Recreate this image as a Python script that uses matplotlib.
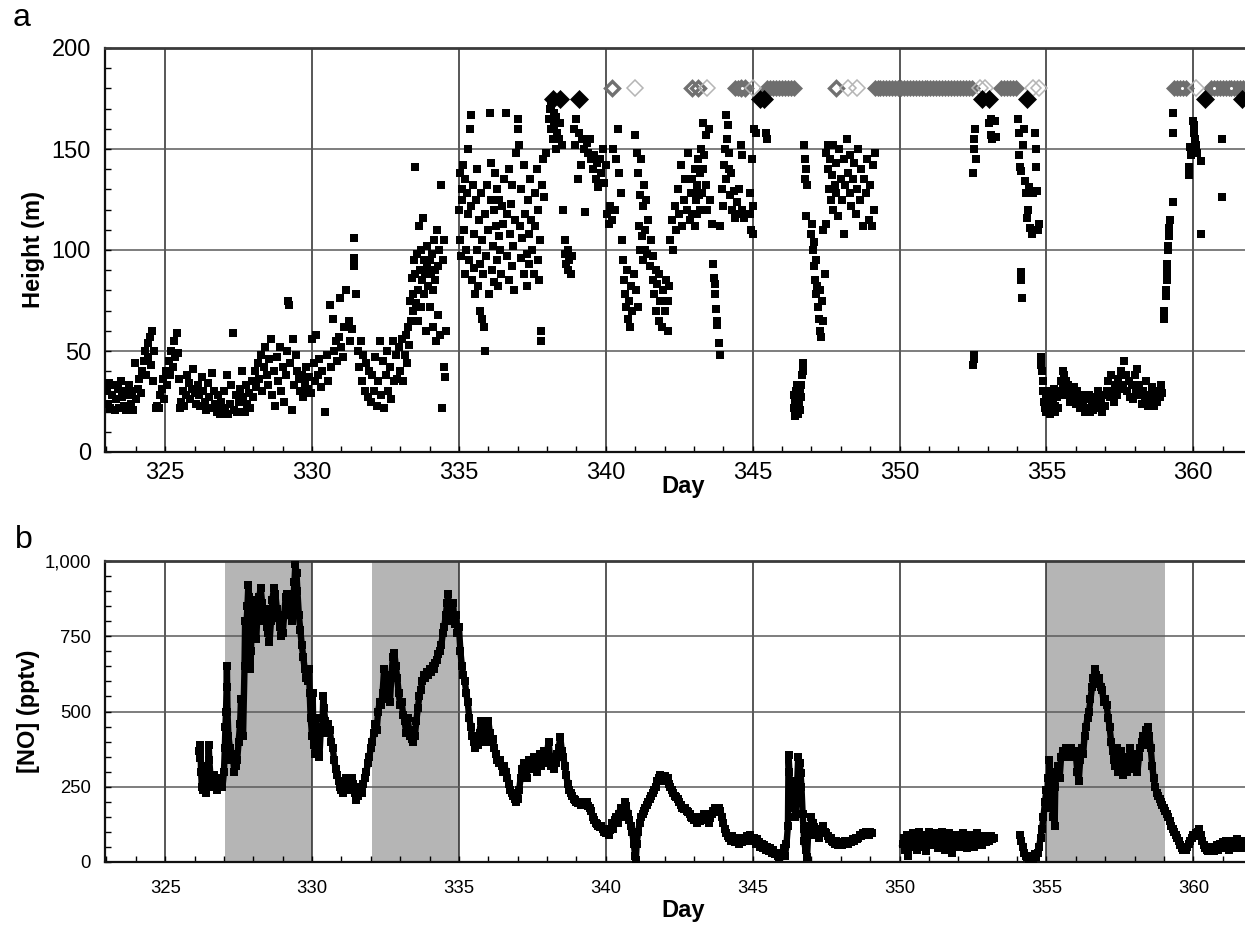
import matplotlib
matplotlib.use("Agg")
import matplotlib.pyplot as plt
from matplotlib.ticker import MultipleLocator, FuncFormatter
import numpy as np

plt.rcParams['font.family'] = ['Liberation Sans', 'DejaVu Sans']

# ---------------- Panel a : height (m) vs day ----------------
low_323_333 = [
    (323.02, 30), (323.05, 24), (323.10, 34), (323.12, 22), (323.18, 28), (323.22, 33), (323.28, 21),
    (323.32, 26), (323.38, 31), (323.42, 22), (323.48, 35), (323.52, 27), (323.58, 23), (323.62, 30),
    (323.68, 21), (323.72, 28), (323.78, 33), (323.82, 24), (323.88, 30), (323.92, 21), (323.97, 44),
    (324.02, 26), (324.08, 31), (324.12, 36), (324.18, 29), (324.22, 40), (324.27, 45), (324.30, 50),
    (324.35, 38), (324.40, 54), (324.43, 47), (324.48, 57), (324.52, 43), (324.55, 60), (324.60, 35),
    (324.62, 50), (324.68, 22), (324.72, 23), (324.78, 22), (324.82, 28), (324.88, 31), (324.93, 36),
    (324.97, 26), (325.02, 40), (325.07, 33), (325.12, 45), (325.17, 38), (325.20, 50), (325.25, 42),
    (325.30, 55), (325.35, 47), (325.40, 59), (325.42, 49), (325.47, 36), (325.50, 22), (325.55, 25),
    (325.60, 30), (325.65, 23), (325.70, 28), (325.75, 38), (325.80, 34), (325.85, 26), (325.90, 31),
    (325.95, 41), (326.00, 29), (326.05, 24), (326.10, 33), (326.15, 28), (326.20, 23), (326.25, 37),
    (326.30, 30), (326.35, 25), (326.40, 21), (326.45, 34), (326.50, 27), (326.55, 22), (326.60, 39),
    (326.65, 30), (326.70, 24), (326.75, 20), (326.80, 28), (326.85, 19), (326.90, 25), (326.95, 22),
    (327.00, 30), (327.05, 20), (327.10, 38), (327.15, 19), (327.20, 24), (327.25, 33), (327.30, 59),
    (327.35, 21), (327.40, 28), (327.45, 20), (327.50, 25), (327.55, 31), (327.60, 40), (327.65, 27),
    (327.70, 20), (327.75, 33), (327.80, 24), (327.85, 29), (327.90, 22), (327.95, 35), (328.00, 27),
    (328.05, 40), (328.10, 32), (328.15, 44), (328.20, 36), (328.25, 48), (328.30, 30), (328.35, 42),
    (328.40, 52), (328.45, 38), (328.50, 33), (328.55, 46), (328.60, 56), (328.65, 28), (328.70, 40),
    (328.75, 23), (328.80, 47), (328.85, 35), (328.90, 52), (328.95, 30), (329.00, 42), (329.05, 25),
    (329.10, 38), (329.15, 50), (329.18, 75), (329.22, 73), (329.25, 44), (329.30, 21), (329.35, 56),
    (329.40, 33), (329.45, 48), (329.50, 40), (329.55, 36), (329.60, 30), (329.65, 38), (329.70, 27),
    (329.75, 34), (329.80, 42), (329.85, 31), (329.90, 37), (329.95, 29), (330.00, 56), (330.05, 44),
    (330.10, 35), (330.15, 58), (330.20, 38), (330.25, 46), (330.30, 32), (330.35, 40), (330.43, 20),
    (330.50, 48), (330.55, 35), (330.60, 73), (330.65, 42), (330.70, 66), (330.75, 50), (330.80, 55),
    (330.85, 45), (330.90, 57), (330.95, 76), (331.00, 52), (331.05, 47), (331.10, 62), (331.17, 80),
    (331.25, 65), (331.30, 55), (331.35, 61), (331.42, 106), (331.43, 96), (331.44, 92), (331.50, 78),
    (331.55, 50), (331.60, 42), (331.65, 55), (331.70, 35), (331.75, 48), (331.80, 30), (331.85, 44),
    (331.90, 27), (331.95, 40), (332.00, 25), (332.05, 38), (332.10, 30), (332.15, 47), (332.20, 23),
    (332.25, 35), (332.30, 55), (332.35, 28), (332.40, 45), (332.45, 22), (332.50, 38), (332.55, 50),
    (332.60, 30), (332.65, 42), (332.70, 26), (332.75, 55), (332.80, 35), (332.85, 48), (332.90, 36),
    (332.95, 52),
]
rise_333_335 = [
    (333.00, 40), (333.05, 56), (333.10, 35), (333.15, 48), (333.20, 58), (333.22, 44), (333.28, 62),
    (333.30, 53), (333.35, 75), (333.38, 65), (333.40, 86), (333.42, 78), (333.45, 70), (333.48, 95),
    (333.50, 141), (333.52, 88), (333.55, 74), (333.58, 98), (333.60, 65), (333.62, 80), (333.65, 112),
    (333.68, 90), (333.70, 72), (333.72, 100), (333.75, 85), (333.78, 116), (333.80, 95), (333.82, 78),
    (333.85, 88), (333.88, 60), (333.90, 102), (333.92, 92), (333.95, 82), (334.00, 95), (334.02, 72),
    (334.05, 88), (334.08, 98), (334.10, 62), (334.12, 80), (334.15, 105), (334.18, 85), (334.20, 90),
    (334.22, 55), (334.25, 110), (334.28, 68), (334.30, 92), (334.32, 100), (334.35, 58), (334.40, 132),
    (334.42, 22), (334.45, 95), (334.48, 105), (334.50, 42), (334.52, 37), (334.55, 60),
]
high_335_338 = [
    (335.00, 120), (335.02, 105), (335.05, 138), (335.08, 97), (335.10, 130), (335.12, 125), (335.15, 142),
    (335.18, 110), (335.20, 88), (335.22, 135), (335.25, 100), (335.28, 128), (335.30, 150), (335.32, 118),
    (335.35, 95), (335.38, 160), (335.40, 167), (335.42, 122), (335.45, 85), (335.48, 132), (335.50, 91),
    (335.52, 108), (335.55, 78), (335.58, 125), (335.60, 100), (335.62, 140), (335.65, 82), (335.68, 115),
    (335.70, 93), (335.72, 70), (335.75, 128), (335.78, 105), (335.80, 66), (335.82, 88), (335.85, 62),
    (335.88, 118), (335.90, 50), (335.92, 97), (335.95, 132), (336.00, 110), (336.02, 78), (336.05, 168),
    (336.08, 143), (336.10, 125), (336.12, 90), (336.15, 102), (336.18, 120), (336.20, 84), (336.22, 138),
    (336.25, 112), (336.28, 95), (336.30, 130), (336.32, 82), (336.35, 107), (336.38, 125), (336.40, 100),
    (336.42, 88), (336.45, 122), (336.50, 113), (336.55, 135), (336.60, 168), (336.62, 97), (336.65, 118),
    (336.70, 85), (336.72, 140), (336.75, 108), (336.78, 123), (336.80, 92), (336.82, 132), (336.85, 102),
    (336.88, 80), (336.90, 115), (336.95, 148), (337.00, 165), (337.02, 160), (337.05, 152), (337.08, 112),
    (337.10, 96), (337.12, 130), (337.15, 106), (337.20, 88), (337.22, 142), (337.25, 118), (337.30, 98),
    (337.32, 82), (337.35, 125), (337.38, 108), (337.40, 93), (337.42, 135), (337.45, 115), (337.50, 100),
    (337.55, 88), (337.58, 128), (337.60, 112), (337.65, 140), (337.68, 95), (337.70, 120), (337.72, 85),
    (337.75, 105), (337.78, 60), (337.80, 55), (337.82, 132), (337.85, 145), (337.90, 126), (337.95, 148),
]
high_338_340 = [
    (338.05, 165), (338.10, 170), (338.12, 160), (338.15, 172), (338.20, 155), (338.22, 168), (338.25, 162),
    (338.30, 150), (338.32, 166), (338.35, 158), (338.40, 155), (338.45, 163), (338.50, 152), (338.55, 120),
    (338.60, 105), (338.62, 98), (338.65, 93), (338.70, 100), (338.72, 90), (338.75, 95), (338.80, 88),
    (338.85, 97), (338.90, 160), (338.95, 152), (339.00, 165), (339.05, 135), (339.10, 158), (339.15, 142),
    (339.20, 155), (339.25, 150), (339.30, 119), (339.35, 153), (339.40, 148), (339.45, 155), (339.50, 145),
    (339.55, 140), (339.60, 147), (339.65, 135), (339.70, 143), (339.75, 131), (339.80, 145), (339.85, 138),
    (339.90, 150), (339.95, 133), (340.00, 142),
]
mid_340_343 = [
    (340.05, 118), (340.10, 113), (340.15, 122), (340.20, 115), (340.25, 150), (340.30, 120), (340.35, 145),
    (340.40, 160), (340.45, 138), (340.50, 128), (340.55, 105), (340.60, 95), (340.62, 85), (340.65, 78),
    (340.70, 72), (340.72, 90), (340.75, 66), (340.80, 75), (340.82, 62), (340.85, 82), (340.90, 70),
    (340.95, 88), (341.00, 157), (341.02, 80), (341.05, 148), (341.08, 72), (341.10, 138), (341.12, 112),
    (341.15, 127), (341.18, 100), (341.20, 145), (341.22, 107), (341.25, 122), (341.28, 95), (341.30, 132),
    (341.32, 110), (341.35, 100), (341.38, 125), (341.40, 98), (341.45, 115), (341.50, 92), (341.55, 105),
    (341.60, 85), (341.62, 97), (341.65, 78), (341.70, 90), (341.72, 70), (341.75, 83), (341.80, 65),
    (341.82, 88), (341.85, 75), (341.90, 62), (341.95, 80), (342.00, 70), (342.05, 85), (342.10, 75),
    (342.12, 60), (342.15, 82), (342.20, 105), (342.25, 115), (342.30, 100), (342.35, 122), (342.40, 110),
    (342.45, 130), (342.50, 118), (342.55, 142), (342.60, 112), (342.65, 125), (342.70, 135), (342.75, 120),
    (342.80, 148), (342.85, 115), (342.90, 128),
]
mid_343_346 = [
    (342.92, 135), (342.95, 118), (343.00, 128), (343.02, 140), (343.05, 112), (343.08, 125), (343.10, 132),
    (343.12, 118), (343.15, 145), (343.18, 127), (343.20, 120), (343.22, 138), (343.25, 150), (343.28, 128),
    (343.30, 163), (343.32, 140), (343.35, 147), (343.40, 157), (343.42, 132), (343.45, 120), (343.50, 160),
    (343.55, 125), (343.60, 113), (343.65, 93), (343.67, 86), (343.70, 83), (343.72, 78), (343.75, 71),
    (343.77, 65), (343.80, 63), (343.85, 54), (343.88, 48), (343.90, 112), (343.95, 130), (344.00, 122),
    (344.02, 142), (344.05, 150), (344.08, 135), (344.10, 167), (344.12, 155), (344.15, 162), (344.18, 140),
    (344.20, 148), (344.22, 127), (344.25, 138), (344.30, 120), (344.35, 129), (344.40, 116), (344.45, 124),
    (344.50, 118), (344.55, 130), (344.60, 152), (344.62, 147), (344.65, 120), (344.70, 116), (344.90, 128),
    (344.92, 118), (344.95, 110), (344.97, 145), (345.00, 122), (345.02, 108), (345.05, 160), (345.10, 158),
    (345.45, 158), (345.50, 155),
]
dip_346_349 = [
    (346.40, 28), (346.42, 22), (346.44, 18), (346.45, 25), (346.47, 30), (346.48, 20), (346.50, 27),
    (346.52, 33), (346.54, 23), (346.55, 19), (346.57, 29), (346.58, 25), (346.60, 31), (346.62, 21),
    (346.63, 27), (346.65, 33), (346.68, 38), (346.70, 44), (346.72, 40), (346.75, 152), (346.77, 145),
    (346.78, 135), (346.80, 140), (346.82, 117), (346.85, 132), (347.00, 108), (347.02, 113), (347.05, 100),
    (347.08, 92), (347.10, 104), (347.12, 85), (347.15, 95), (347.17, 78), (347.20, 82), (347.22, 72),
    (347.25, 66), (347.28, 80), (347.30, 60), (347.32, 57), (347.35, 75), (347.38, 65), (347.40, 110),
    (347.45, 88), (347.48, 113), (347.50, 148), (347.55, 140), (347.58, 152), (347.60, 130), (347.62, 145),
    (347.65, 125), (347.70, 137), (347.72, 120), (347.75, 152), (347.80, 132), (347.82, 143), (347.85, 128),
    (347.90, 117), (347.95, 150), (348.00, 135), (348.05, 125), (348.10, 145), (348.12, 108), (348.15, 132),
    (348.20, 155), (348.25, 138), (348.30, 128), (348.32, 147), (348.35, 122), (348.40, 135), (348.45, 143),
    (348.50, 118), (348.55, 130), (348.60, 150), (348.65, 125), (348.70, 140), (348.75, 112), (348.80, 135),
    (348.85, 128), (348.90, 145), (348.95, 115), (349.00, 132), (349.05, 112), (349.10, 142), (349.12, 120),
    (349.15, 148),
]
late_352_355 = [
    (352.50, 138), (352.52, 150), (352.55, 155), (352.58, 160), (352.60, 145), (352.50, 43), (352.52, 46),
    (352.53, 48), (353.05, 163), (353.10, 165), (353.12, 157), (353.15, 155), (353.25, 164), (353.30, 156),
    (354.02, 165), (354.05, 158), (354.08, 147), (354.10, 141), (354.12, 139), (354.14, 89), (354.15, 85),
    (354.16, 76), (354.20, 152), (354.25, 160), (354.28, 134), (354.30, 128), (354.33, 116), (354.36, 120),
    (354.40, 131), (354.45, 111), (354.50, 108), (354.55, 128), (354.60, 158), (354.63, 150), (354.66, 141),
    (354.68, 129), (354.72, 110), (354.75, 113),
]
low_355_359 = [
    (354.80, 47), (354.82, 43), (354.85, 40), (354.87, 35), (354.90, 30), (354.92, 25), (354.95, 22),
    (354.97, 28), (355.00, 20), (355.02, 25), (355.05, 30), (355.08, 22), (355.10, 27), (355.12, 19),
    (355.15, 24), (355.18, 29), (355.20, 21), (355.22, 26), (355.25, 31), (355.28, 23), (355.30, 20),
    (355.35, 27), (355.40, 22), (355.45, 30), (355.50, 35), (355.52, 28), (355.55, 40), (355.58, 33),
    (355.60, 38), (355.62, 30), (355.65, 35), (355.70, 28), (355.75, 33), (355.80, 25), (355.85, 30),
    (355.90, 27), (355.95, 32), (356.00, 24), (356.05, 30), (356.10, 26), (356.15, 22), (356.20, 28),
    (356.25, 24), (356.30, 20), (356.35, 26), (356.40, 22), (356.45, 28), (356.50, 20), (356.55, 25),
    (356.60, 21), (356.65, 27), (356.70, 22), (356.75, 30), (356.80, 24), (356.85, 26), (356.90, 20),
    (356.95, 28), (357.00, 23), (357.05, 30), (357.10, 35), (357.15, 27), (357.20, 38), (357.25, 30),
    (357.30, 25), (357.35, 33), (357.40, 28), (357.45, 36), (357.50, 31), (357.55, 40), (357.60, 33),
    (357.65, 45), (357.70, 38), (357.75, 30), (357.80, 35), (357.85, 27), (357.90, 33), (357.95, 26),
    (358.00, 38), (358.05, 30), (358.10, 41), (358.15, 33), (358.20, 28), (358.25, 24), (358.30, 30),
    (358.35, 26), (358.40, 35), (358.45, 23), (358.50, 28), (358.55, 25), (358.60, 32), (358.65, 23),
    (358.70, 28), (358.75, 25), (358.80, 30), (358.85, 27), (358.90, 33), (358.95, 29),
]
rise_359_361 = [
    (359.00, 66), (359.01, 70), (359.07, 77), (359.08, 80), (359.09, 85), (359.10, 89), (359.12, 93),
    (359.13, 100), (359.14, 102), (359.16, 107), (359.18, 111), (359.20, 115), (359.30, 124), (359.30, 158),
    (359.31, 168), (359.85, 141), (359.86, 137), (359.90, 151), (359.92, 147), (360.00, 164), (360.01, 162),
    (360.03, 158), (360.05, 155), (360.07, 152), (360.10, 152), (360.12, 148), (360.26, 144), (360.26, 108),
    (360.96, 155), (360.96, 126),
]

# markers at the top of panel a (day positions)
black_diamond_days = [338.2, 338.45, 339.1, 345.25, 345.4, 352.8, 353.05, 354.35, 360.4, 361.65]
gray_band_days = [344.4, 344.5,
                  345.5, 345.6, 345.7, 345.8, 345.9, 346.0, 346.1, 346.2, 346.3, 346.4,
                  349.15, 349.25, 349.35, 349.45, 349.55, 349.65, 349.75, 349.85, 349.95, 350.05,
                  350.15, 350.25, 350.35, 350.45, 350.55, 350.65, 350.75, 350.85, 350.95, 351.05,
                  351.15, 351.25, 351.35, 351.45, 351.55, 351.65, 351.75, 351.85, 351.95, 352.05,
                  352.15, 352.25, 352.35, 352.45,
                  353.45, 353.55, 353.65, 353.75, 353.85, 353.95,
                  359.35, 359.45, 359.55, 359.65, 359.75,
                  360.6, 360.7, 360.8, 360.9, 361.0, 361.1, 361.2, 361.3, 361.4, 361.5, 361.6, 361.7]
band_dot_days = [344.65, 359.63, 360.71, 361.3]
dark_open_days = [340.2, 342.95, 343.15, 344.6, 344.75, 347.85]
light_open_days = [341.0, 343.45, 345.0, 348.25, 348.55, 352.75, 352.9, 354.55, 354.75, 360.1]
black_diamond_level = 175
gray_level = 180

# ---------------- Panel b : [NO] (pptv) vs day ----------------
no_326_349 = [
    (326.15, 370), (326.18, 345), (326.20, 390), (326.22, 300), (326.25, 250), (326.28, 320), (326.30, 240),
    (326.33, 290), (326.35, 260), (326.40, 230), (326.45, 300), (326.48, 390), (326.50, 340), (326.55, 270),
    (326.60, 250), (326.65, 290), (326.70, 260), (326.75, 240), (326.80, 280), (326.85, 250), (326.90, 270),
    (326.95, 250), (327.00, 300), (327.03, 380), (327.05, 450), (327.07, 500), (327.09, 580), (327.10, 650),
    (327.12, 500), (327.15, 420), (327.20, 380), (327.25, 340), (327.30, 360), (327.35, 300), (327.40, 320),
    (327.45, 340), (327.50, 400), (327.55, 460), (327.58, 540), (327.60, 520), (327.65, 420), (327.70, 650),
    (327.72, 800), (327.75, 760), (327.80, 850), (327.83, 920), (327.86, 880), (327.88, 780), (327.90, 640),
    (327.92, 700), (327.95, 820), (328.00, 870), (328.05, 790), (328.10, 740), (328.15, 850), (328.20, 880),
    (328.25, 910), (328.30, 860), (328.35, 800), (328.40, 840), (328.45, 780), (328.50, 760), (328.55, 730),
    (328.60, 800), (328.65, 870), (328.70, 910), (328.75, 890), (328.80, 840), (328.85, 810), (328.90, 780),
    (328.95, 750), (329.00, 760), (329.05, 820), (329.10, 880), (329.15, 890), (329.20, 830), (329.25, 820),
    (329.30, 800), (329.35, 850), (329.40, 930), (329.43, 990), (329.47, 960), (329.50, 900), (329.55, 820),
    (329.60, 770), (329.65, 720), (329.70, 680), (329.75, 640), (329.80, 610), (329.85, 600), (329.90, 640),
    (329.92, 560), (329.95, 480), (330.00, 420), (330.02, 560), (330.05, 390), (330.08, 430), (330.10, 360),
    (330.13, 480), (330.15, 420), (330.20, 400), (330.25, 350), (330.30, 450), (330.35, 430), (330.38, 550),
    (330.40, 510), (330.45, 470), (330.50, 430), (330.55, 460), (330.60, 440), (330.65, 400), (330.70, 380),
    (330.75, 340), (330.80, 310), (330.85, 290), (330.90, 270), (330.95, 250), (331.00, 240), (331.05, 230),
    (331.10, 260), (331.15, 280), (331.20, 270), (331.25, 240), (331.30, 260), (331.35, 280), (331.40, 260),
    (331.45, 230), (331.50, 205), (331.55, 220), (331.60, 240), (331.65, 250), (331.70, 230), (331.75, 260),
    (331.80, 280), (331.85, 300), (331.90, 330), (331.95, 350), (332.00, 380), (332.05, 400), (332.10, 430),
    (332.15, 460), (332.20, 440), (332.25, 500), (332.30, 530), (332.35, 520), (332.40, 560), (332.45, 640),
    (332.50, 600), (332.55, 540), (332.60, 570), (332.65, 530), (332.70, 620), (332.75, 680), (332.80, 694),
    (332.85, 650), (332.90, 610), (332.95, 560), (333.00, 520), (333.05, 530), (333.10, 490), (333.15, 470),
    (333.20, 430), (333.25, 480), (333.30, 440), (333.35, 420), (333.40, 410), (333.45, 400), (333.50, 420),
    (333.55, 470), (333.60, 510), (333.65, 550), (333.70, 570), (333.75, 600), (333.80, 620), (333.85, 610),
    (333.90, 630), (333.95, 620), (334.00, 640), (334.05, 630), (334.10, 650), (334.15, 640), (334.20, 660),
    (334.25, 670), (334.30, 690), (334.35, 700), (334.40, 720), (334.45, 760), (334.50, 780), (334.55, 820),
    (334.60, 860), (334.63, 890), (334.66, 850), (334.70, 800), (334.75, 840), (334.80, 860), (334.85, 790),
    (334.90, 820), (334.95, 760), (335.00, 780), (335.05, 700), (335.10, 650), (335.15, 620), (335.20, 600),
    (335.25, 560), (335.30, 530), (335.35, 480), (335.40, 450), (335.45, 420), (335.50, 400), (335.55, 380),
    (335.60, 400), (335.65, 390), (335.70, 430), (335.75, 470), (335.80, 420), (335.85, 400), (335.90, 440),
    (335.95, 460), (336.00, 470), (336.05, 430), (336.10, 400), (336.15, 410), (336.20, 380), (336.25, 360),
    (336.30, 340), (336.35, 330), (336.40, 340), (336.45, 320), (336.50, 300), (336.55, 320), (336.60, 300),
    (336.65, 280), (336.70, 260), (336.75, 240), (336.80, 230), (336.85, 220), (336.90, 210), (336.95, 200),
    (337.00, 210), (337.05, 240), (337.10, 280), (337.15, 310), (337.20, 330), (337.25, 300), (337.30, 280),
    (337.35, 320), (337.40, 340), (337.45, 310), (337.50, 330), (337.55, 350), (337.60, 320), (337.65, 300),
    (337.70, 340), (337.75, 360), (337.80, 320), (337.85, 340), (337.90, 370), (337.95, 330), (338.00, 360),
    (338.05, 400), (338.10, 350), (338.15, 320), (338.20, 340), (338.25, 310), (338.30, 330), (338.35, 360),
    (338.40, 380), (338.45, 415), (338.50, 370), (338.55, 350), (338.60, 320), (338.65, 290), (338.70, 260),
    (338.75, 240), (338.80, 230), (338.85, 220), (338.90, 210), (338.95, 205), (339.00, 200), (339.05, 195),
    (339.10, 200), (339.15, 190), (339.20, 195), (339.25, 200), (339.30, 190), (339.35, 200), (339.40, 185),
    (339.45, 180), (339.50, 170), (339.55, 150), (339.60, 140), (339.65, 130), (339.70, 125), (339.75, 120),
    (339.80, 115), (339.85, 120), (339.90, 110), (339.95, 100), (340.00, 95), (340.05, 110), (340.10, 90),
    (340.15, 105), (340.20, 130), (340.25, 110), (340.30, 140), (340.35, 150), (340.40, 130), (340.45, 160),
    (340.50, 180), (340.55, 150), (340.60, 170), (340.65, 200), (340.70, 185), (340.75, 160), (340.80, 140),
    (340.85, 120), (340.90, 100), (340.95, 60), (341.00, 20), (341.02, 5), (341.05, 60), (341.10, 100),
    (341.15, 130), (341.20, 150), (341.25, 160), (341.30, 170), (341.35, 180), (341.40, 190), (341.45, 200),
    (341.50, 210), (341.55, 220), (341.60, 230), (341.65, 240), (341.70, 250), (341.75, 270), (341.80, 280),
    (341.85, 290), (341.90, 285), (341.95, 270), (342.00, 285), (342.05, 270), (342.10, 280), (342.15, 260),
    (342.20, 250), (342.25, 240), (342.30, 230), (342.35, 220), (342.40, 215), (342.45, 210), (342.50, 200),
    (342.55, 190), (342.60, 180), (342.65, 175), (342.70, 180), (342.75, 170), (342.80, 165), (342.85, 160),
    (342.90, 150), (342.95, 145), (343.00, 140), (343.05, 150), (343.10, 130), (343.15, 145), (343.20, 135),
    (343.25, 150), (343.30, 140), (343.35, 160), (343.40, 150), (343.45, 140), (343.50, 130), (343.55, 145),
    (343.60, 160), (343.65, 170), (343.70, 180), (343.75, 165), (343.80, 175), (343.85, 180), (343.90, 170),
    (343.95, 150), (344.00, 130), (344.05, 110), (344.10, 95), (344.15, 85), (344.20, 80), (344.25, 70),
    (344.30, 85), (344.35, 75), (344.40, 65), (344.45, 80), (344.50, 70), (344.55, 60), (344.60, 75),
    (344.65, 65), (344.70, 80), (344.75, 70), (344.80, 85), (344.85, 75), (344.90, 90), (344.95, 80),
    (345.00, 70), (345.05, 80), (345.10, 60), (345.15, 75), (345.20, 65), (345.25, 50), (345.30, 60),
    (345.35, 45), (345.40, 55), (345.45, 40), (345.50, 50), (345.55, 35), (345.60, 45), (345.65, 30),
    (345.70, 40), (345.75, 25), (345.80, 30), (345.85, 20), (345.90, 15), (345.95, 20), (346.00, 30),
    (346.05, 45), (346.10, 20), (346.15, 60), (346.20, 120), (346.22, 355), (346.25, 300), (346.28, 230),
    (346.30, 180), (346.33, 270), (346.36, 210), (346.40, 240), (346.45, 150), (346.50, 230), (346.55, 350),
    (346.60, 330), (346.63, 295), (346.66, 250), (346.70, 160), (346.73, 110), (346.75, 70), (346.80, 40),
    (346.85, 15), (346.90, 120), (346.95, 90), (347.00, 150), (347.05, 130), (347.10, 115), (347.15, 100),
    (347.20, 90), (347.25, 80), (347.30, 110), (347.35, 100), (347.40, 120), (347.45, 100), (347.50, 95),
    (347.55, 85), (347.60, 75), (347.65, 80), (347.70, 70), (347.75, 65), (347.80, 60), (347.85, 70),
    (347.90, 55), (347.95, 60), (348.00, 65), (348.05, 55), (348.10, 60), (348.15, 70), (348.20, 65),
    (348.25, 60), (348.30, 70), (348.35, 65), (348.40, 75), (348.45, 70), (348.50, 80), (348.55, 75),
    (348.60, 80), (348.65, 90), (348.70, 85), (348.75, 95), (348.80, 90), (348.85, 100), (348.90, 95),
    (348.95, 90), (349.00, 100), (349.05, 95),
]
no_350_353 = [
    (350.10, 60), (350.15, 80), (350.20, 40), (350.25, 90), (350.30, 20), (350.35, 70), (350.40, 50),
    (350.45, 95), (350.50, 60), (350.55, 80), (350.60, 40), (350.65, 100), (350.70, 70), (350.75, 50),
    (350.80, 90), (350.85, 60), (350.90, 35), (350.95, 75), (351.00, 100), (351.05, 55), (351.10, 80),
    (351.15, 60), (351.20, 95), (351.25, 70), (351.30, 45), (351.35, 80), (351.40, 60), (351.45, 100),
    (351.50, 70), (351.55, 40), (351.60, 85), (351.65, 65), (351.70, 95), (351.75, 55), (351.80, 30),
    (351.85, 75), (351.90, 90), (351.95, 60), (352.00, 80), (352.05, 50), (352.10, 70), (352.15, 95),
    (352.20, 60), (352.25, 85), (352.30, 45), (352.35, 70), (352.40, 90), (352.45, 60), (352.50, 80),
    (352.55, 50), (352.60, 75), (352.65, 95), (352.70, 65), (352.75, 80), (352.80, 55), (352.85, 75),
    (352.90, 85), (352.95, 65), (353.00, 80), (353.05, 70), (353.10, 85), (353.15, 75), (353.20, 80),
]
no_354_362 = [
    (354.10, 90), (354.15, 70), (354.20, 50), (354.25, 30), (354.30, 20), (354.35, 15), (354.40, 10),
    (354.45, 20), (354.50, 15), (354.55, 10), (354.60, 25), (354.65, 15), (354.70, 30), (354.75, 50),
    (354.80, 80), (354.85, 110), (354.90, 150), (354.95, 200), (355.00, 240), (355.02, 180), (355.05, 280),
    (355.08, 220), (355.10, 340), (355.13, 260), (355.15, 300), (355.18, 200), (355.20, 270), (355.22, 150),
    (355.25, 230), (355.28, 120), (355.30, 250), (355.35, 300), (355.40, 320), (355.45, 280), (355.50, 350),
    (355.55, 370), (355.60, 360), (355.65, 380), (355.70, 350), (355.75, 370), (355.80, 360), (355.85, 380),
    (355.90, 350), (355.95, 370), (356.00, 360), (356.05, 300), (356.10, 270), (356.15, 340), (356.20, 380),
    (356.25, 360), (356.30, 420), (356.35, 450), (356.40, 480), (356.45, 500), (356.50, 540), (356.55, 580),
    (356.60, 610), (356.65, 640), (356.70, 620), (356.75, 590), (356.80, 610), (356.85, 580), (356.90, 570),
    (356.95, 530), (357.00, 540), (357.05, 520), (357.10, 480), (357.15, 450), (357.20, 400), (357.25, 370),
    (357.30, 340), (357.35, 320), (357.40, 380), (357.45, 300), (357.50, 340), (357.55, 370), (357.60, 290),
    (357.65, 350), (357.70, 320), (357.75, 300), (357.80, 350), (357.85, 380), (357.90, 330), (357.95, 310),
    (358.00, 360), (358.05, 340), (358.10, 300), (358.15, 350), (358.20, 380), (358.25, 400), (358.30, 420),
    (358.35, 390), (358.40, 440), (358.45, 450), (358.50, 420), (358.55, 380), (358.60, 320), (358.65, 280),
    (358.70, 250), (358.75, 230), (358.80, 220), (358.85, 210), (358.90, 200), (358.95, 190), (359.00, 180),
    (359.05, 170), (359.10, 160), (359.15, 150), (359.20, 135), (359.25, 120), (359.30, 110), (359.35, 100),
    (359.40, 90), (359.45, 80), (359.50, 70), (359.55, 55), (359.60, 45), (359.65, 40), (359.70, 45),
    (359.75, 40), (359.80, 50), (359.85, 60), (359.90, 70), (359.95, 80), (360.00, 90), (360.05, 85),
    (360.10, 95), (360.15, 100), (360.20, 110), (360.25, 90), (360.30, 70), (360.35, 55), (360.40, 45),
    (360.45, 40), (360.50, 35), (360.55, 45), (360.60, 40), (360.65, 50), (360.70, 35), (360.75, 45),
    (360.80, 55), (360.85, 40), (360.90, 60), (360.95, 50), (361.00, 65), (361.05, 45), (361.10, 70),
    (361.15, 55), (361.20, 40), (361.25, 65), (361.30, 50), (361.35, 70), (361.40, 45), (361.45, 60),
    (361.50, 75), (361.55, 50), (361.60, 65), (361.65, 45), (361.70, 70), (361.75, 55), (361.80, 60),
]
shaded_periods = [(327.05, 330.0), (332.05, 335.0), (355.0, 359.05)]

# ---------------- figure ----------------
W, H = 1245, 925
fig = plt.figure(figsize=(W / 100, H / 100), dpi=100)
XLIM = (322.95, 361.76)

ax_a = fig.add_axes([105 / W, 1 - 452 / H, 1140 / W, 404 / H])
ax_b = fig.add_axes([105 / W, 1 - 862 / H, 1140 / W, 301 / H])


def style_axes(ax, ymax, ymajor, yminor, tick_fs, ypad, xpad):
    ax.set_xlim(*XLIM)
    ax.set_ylim(0, ymax)
    ax.xaxis.set_major_locator(MultipleLocator(5))
    ax.xaxis.set_minor_locator(MultipleLocator(1))
    ax.yaxis.set_major_locator(MultipleLocator(ymajor))
    ax.yaxis.set_minor_locator(MultipleLocator(yminor))
    ax.set_axisbelow(True)
    ax.grid(True, which='major', axis='x', color='#2a2a2a', lw=1.1)
    ax.grid(True, which='major', axis='y', color='#5a5a5a', lw=1.1)
    ax.tick_params(which='both', direction='in', colors='black')
    ax.tick_params(which='major', length=4, width=1)
    ax.tick_params(which='minor', length=4, width=1)
    ax.tick_params(axis='y', which='major', labelsize=tick_fs, pad=ypad)
    ax.tick_params(axis='x', which='major', labelsize=tick_fs, pad=xpad)
    ax.spines['right'].set_visible(False)
    for s in ('left', 'bottom'):
        ax.spines[s].set_linewidth(1.6)
        ax.spines[s].set_color('#111111')
    ax.spines['top'].set_linewidth(2.0)
    ax.spines['top'].set_color('#3a3a3a')


style_axes(ax_a, 200, 50, 10, 17, 10, 7)
style_axes(ax_b, 1000, 250, 50, 13.3, 10, 13)
ax_b.yaxis.set_major_formatter(FuncFormatter(lambda v, p: f"{int(v):,}"))

# panel a scatter
for seg in (low_323_333, rise_333_335, high_335_338, high_338_340, mid_340_343,
            mid_343_346, dip_346_349, late_352_355, low_355_359, rise_359_361):
    d, h = zip(*seg)
    ax_a.plot(d, h, ls='none', marker='s', ms=5.6, mew=0, color='black', zorder=3)

ax_a.plot(gray_band_days, [gray_level] * len(gray_band_days), ls='none', marker='D', ms=8.6,
          mfc='#6e6e6e', mec='#6e6e6e', mew=0.5, zorder=4)
ax_a.plot(band_dot_days, [gray_level] * len(band_dot_days), ls='none', marker='o', ms=2.2,
          mfc='white', mec='white', mew=0, zorder=4.5)
ax_a.plot(dark_open_days, [gray_level] * len(dark_open_days), ls='none', marker='D', ms=7.4,
          mfc='none', mec='#707070', mew=2.4, zorder=4)
ax_a.plot(light_open_days, [gray_level] * len(light_open_days), ls='none', marker='D', ms=8.4,
          mfc='none', mec='#b5b5b5', mew=1.1, zorder=4)
ax_a.plot(black_diamond_days, [black_diamond_level] * len(black_diamond_days), ls='none', marker='D',
          ms=9.0, mfc='black', mec='black', mew=0.5, zorder=5)

ax_a.set_ylabel('Height (m)', fontsize=17, fontweight='bold', labelpad=5)
ax_a.set_xlabel('Day', fontsize=17, fontweight='bold')
ax_a.xaxis.set_label_coords(0.507, -0.058)

# panel b
for a, b in shaded_periods:
    ax_b.axvspan(a, b, color='#b5b5b5', lw=0, zorder=0.2)

no_days, no_vals = [], []
for seg in (no_326_349, no_350_353, no_354_362):
    d, v = zip(*seg)
    no_days += list(d) + [np.nan]
    no_vals += list(v) + [np.nan]
ax_b.plot(no_days, no_vals, color='black', lw=4.6, marker='s', ms=6.2, mew=0, zorder=3)

ax_b.set_ylabel('[NO] (pptv)', fontsize=17, fontweight='bold', labelpad=3)
ax_b.set_xlabel('Day', fontsize=17, fontweight='bold')
ax_b.xaxis.set_label_coords(0.507, -0.122)

fig.text(22 / W, 1 - 18 / H, 'a', fontsize=23, ha='center', va='center')
fig.text(24 / W, 1 - 540 / H, 'b', fontsize=23, ha='center', va='center')

fig.savefig('out.png', dpi=100)
